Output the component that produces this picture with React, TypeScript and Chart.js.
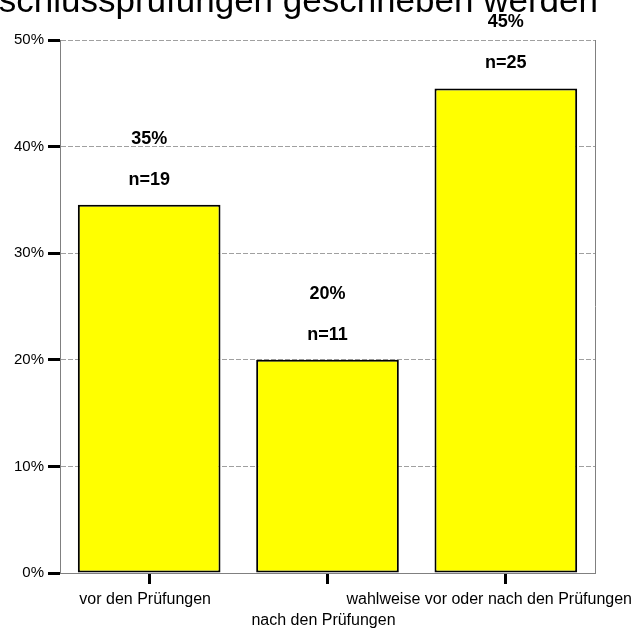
import React, { useEffect, useRef } from "react";
import { Chart, registerables } from "chart.js";

Chart.register(...registerables);

// Answers and how many respondents chose each one
const categories = [
  "vor den Prüfungen",
  "nach den Prüfungen",
  "wahlweise vor oder nach den Prüfungen",
];
const counts = [19, 11, 25];
const yTickValues = [0, 10, 20, 30, 40, 50];
const titleText = "Abschlussprüfungen geschrieben werden";

const total = counts.reduce((a, b) => a + b, 0);
const percents = counts.map((c) => (c / total) * 100);

const FONT = 'Arial, "Liberation Sans", sans-serif';

const overlayPlugin = {
  id: "overlay",
  afterDraw(chart: any) {
    const { ctx, chartArea, scales } = chart;
    const xScale = scales.x;
    ctx.save();

    // right-hand frame edge
    ctx.strokeStyle = "#808080";
    ctx.lineWidth = 1;
    ctx.setLineDash([]);
    ctx.beginPath();
    ctx.moveTo(Math.round(chartArea.right) + 0.5, chartArea.top);
    ctx.lineTo(Math.round(chartArea.right) + 0.5, chartArea.bottom);
    ctx.stroke();

    // value labels above each bar
    const meta = chart.getDatasetMeta(0);
    ctx.fillStyle = "#000";
    ctx.textAlign = "center";
    ctx.textBaseline = "middle";
    ctx.font = `bold 18px ${FONT}`;
    meta.data.forEach((bar: any, i: number) => {
      ctx.fillText(`n=${counts[i]}`, bar.x, bar.y - 25);
      ctx.fillText(`${Math.round(percents[i])}%`, bar.x, bar.y - 66);
    });

    // category labels, every second one on a lower row
    ctx.font = `16px ${FONT}`;
    const W = chart.width;
    categories.forEach((label, i) => {
      const cx = xScale.getPixelForValue(i) - 4;
      const w = ctx.measureText(label).width;
      const x = Math.min(cx, W - 10 - w / 2);
      const y = chartArea.bottom + (i % 2 === 1 ? 48 : 27);
      ctx.fillText(label, x, y);
    });

    // heading
    ctx.font = `35px ${FONT}`;
    ctx.textAlign = "right";
    ctx.textBaseline = "alphabetic";
    ctx.fillText(titleText, 598, 12);

    ctx.restore();
  },
};

export default function App() {
  const canvasRef = useRef<HTMLCanvasElement | null>(null);

  useEffect(() => {
    if (!canvasRef.current) return;
    const chart = new Chart(canvasRef.current, {
      type: "bar",
      data: {
        labels: categories,
        datasets: [
          {
            data: percents,
            backgroundColor: "#FFFF00",
            borderColor: "#000000",
            borderWidth: 2,
            borderSkipped: false,
            barPercentage: 0.8,
            categoryPercentage: 1.0,
          },
        ],
      },
      options: {
        responsive: false,
        animation: false,
        layout: { padding: { top: 40, right: 47, left: 0, bottom: 0 } },
        plugins: {
          legend: { display: false },
          tooltip: { enabled: false },
          title: { display: false },
        },
        scales: {
          x: {
            offset: true,
            grid: {
              display: true,
              drawOnChartArea: false,
              drawTicks: true,
              offset: false,
              tickLength: 11,
              tickWidth: 3,
              tickColor: "#000",
              tickBorderDash: [],
            },
            border: { display: true, color: "#808080", width: 1 },
            ticks: { callback: () => "" },
            afterFit: (s: any) => {
              s.height = 57;
            },
          },
          y: {
            min: yTickValues[0],
            max: yTickValues[yTickValues.length - 1],
            afterBuildTicks: (s: any) => {
              s.ticks = yTickValues.map((v) => ({ value: v }));
            },
            ticks: {
              callback: (v: any) => `${v}%`,
              color: "#000",
              font: { family: FONT, size: 15 },
              padding: 4,
            },
            grid: {
              color: "#a0a0a0",
              lineWidth: 1,
              tickLength: 12,
              tickWidth: 3,
              tickColor: "#000",
              tickBorderDash: [],
            },
            border: { display: true, color: "#808080", width: 1, dash: [5, 2] },
            afterFit: (s: any) => {
              s.width = 60;
            },
          },
        },
      },
      plugins: [overlayPlugin],
    });
    return () => chart.destroy();
  }, []);

  return (
    <div style={{ position: "absolute", left: 0, top: 0, width: 642, height: 630, background: "#fff" }}>
      <canvas ref={canvasRef} width={642} height={630} style={{ display: "block" }} />
    </div>
  );
}
